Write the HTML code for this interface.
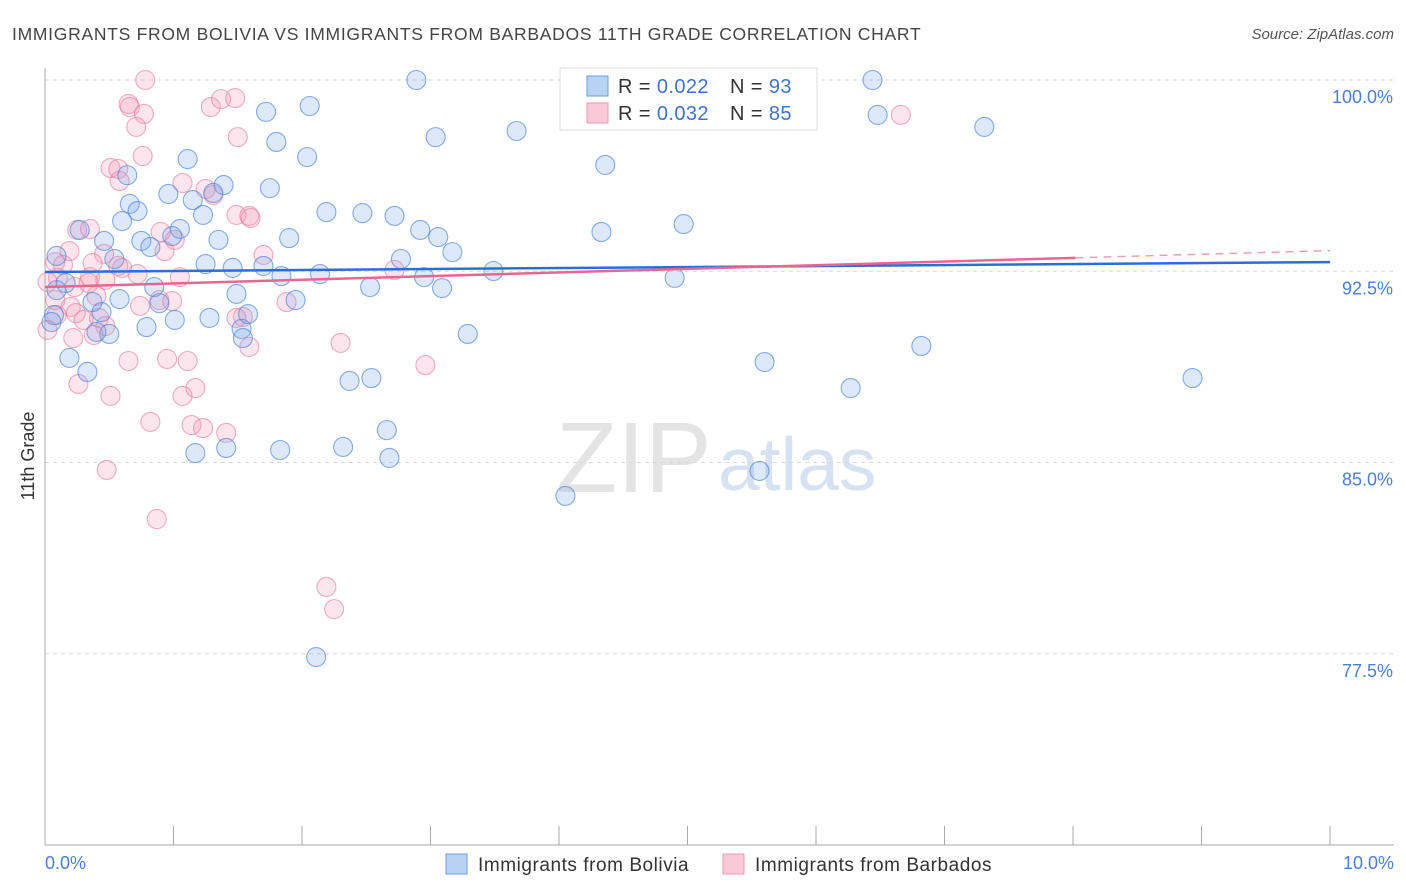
<!DOCTYPE html>
<html><head><meta charset="utf-8"><style>
body{margin:0;background:#fff;font-family:"Liberation Sans",sans-serif;}
#wrap{position:relative;width:1406px;height:892px;overflow:hidden;}
svg text{font-family:"Liberation Sans",sans-serif;}
</style></head><body>
<div id="wrap">
<svg id="chart" width="1406" height="892">
<text x="12" y="40" font-size="17.5" letter-spacing="0.72" fill="#444">IMMIGRANTS FROM BOLIVIA VS IMMIGRANTS FROM BARBADOS 11TH GRADE CORRELATION CHART</text>
<text x="1394" y="39" font-size="15" fill="#555" font-style="italic" text-anchor="end">Source: ZipAtlas.com</text>
<text x="556" y="492" font-size="100" fill="#e4e4e4" font-family="Liberation Serif">ZIP</text>
<text x="718" y="490" font-size="75" fill="#d6e2f3">atlas</text>
<g id="grid"></g>
<g id="axes"></g>
<g id="pts"></g>
<g id="trend"></g>
<text transform="translate(34,456) rotate(-90)" font-size="18" fill="#333" text-anchor="middle">11th Grade</text>
<text x="45" y="869" font-size="18" fill="#4a7fd4">0.0%</text>
<text x="1394" y="869" font-size="18" fill="#4a7fd4" text-anchor="end">10.0%</text>
<g>
<rect x="560" y="68" width="257" height="62" fill="#fff" stroke="#ddd"/>
<rect x="587" y="76" width="21" height="20" fill="#b9d3f5" stroke="#6a9be0"/>
<rect x="587" y="103" width="21" height="20" fill="#f9c9d7" stroke="#ec9ab4"/>
<text x="618" y="93" font-size="20" letter-spacing="0.4" fill="#333">R = <tspan fill="#3d74d0">0.022</tspan></text>
<text x="730" y="93" font-size="20" letter-spacing="0.4" fill="#333">N = <tspan fill="#3d74d0">93</tspan></text>
<text x="618" y="120" font-size="20" letter-spacing="0.4" fill="#333">R = <tspan fill="#3d74d0">0.032</tspan></text>
<text x="730" y="120" font-size="20" letter-spacing="0.4" fill="#333">N = <tspan fill="#3d74d0">85</tspan></text>
</g>
<g>
<rect x="446" y="854" width="21" height="20" fill="#b9d3f5" stroke="#6a9be0"/>
<text x="478" y="871" font-size="19" letter-spacing="0.55" fill="#333">Immigrants from Bolivia</text>
</g>
<g>
<rect x="723" y="854" width="21" height="20" fill="#f9c9d7" stroke="#ec9ab4"/>
<text x="755" y="871" font-size="19" letter-spacing="0.55" fill="#333">Immigrants from Barbados</text>
</g>
</svg>
</div>
<script>
const yTicks=[100,92.5,85,77.5];
const yTickLabels=["100.0%","92.5%","85.0%","77.5%"];
const xTicks=[0,1,2,3,4,5,6,7,8,9,10];
const blueX=[2.89,6.44,4.10,1.72,2.06,6.48,7.31,3.67,3.04,1.80,4.36,1.11,2.04,0.64,1.39,1.75,0.96,1.31,1.15,0.66,0.72,2.19,2.47,2.72,1.23,0.60,4.97,4.33,0.27,1.05,2.92,3.06,1.90,1.35,0.46,0.75,0.82,0.99,3.17,2.77,0.09,0.54,1.25,1.46,1.70,3.49,2.14,1.84,2.95,4.90,0.16,0.85,2.53,3.09,1.49,0.37,0.58,1.95,0.89,1.58,0.07,0.44,1.01,1.28,0.79,1.53,1.54,0.50,0.40,3.29,6.82,0.19,0.33,5.60,2.37,2.54,6.27,8.93,2.66,2.32,1.41,1.17,1.83,2.68,5.56,4.05,2.11,0.05,0.09];
const blueY=[100.0,100.0,99.29,98.75,98.98,98.63,98.16,98.0,97.76,97.57,96.67,96.9,96.98,96.27,95.88,95.76,95.53,95.57,95.29,95.14,94.86,94.82,94.78,94.67,94.71,94.47,94.35,94.04,94.12,94.16,94.12,93.84,93.8,93.73,93.69,93.69,93.45,93.88,93.25,92.98,93.1,92.98,92.78,92.63,92.71,92.51,92.39,92.31,92.27,92.24,92.04,91.88,91.88,91.84,91.61,91.29,91.41,91.37,91.25,90.82,90.78,90.9,90.59,90.67,90.31,90.24,89.88,90.04,90.12,90.04,89.57,89.1,88.55,88.94,88.2,88.31,87.92,88.31,86.27,85.61,85.57,85.37,85.49,85.18,84.67,83.69,77.37,90.51,91.76];
const pinkX=[0.78,0.65,0.66,0.77,1.29,1.37,1.48,0.71,6.66,1.50,0.76,0.51,0.57,0.58,1.07,1.25,1.31,1.49,1.59,1.60,0.25,0.35,0.90,1.01,0.46,0.19,0.08,0.37,0.14,0.60,0.10,0.02,0.57,0.72,1.05,0.93,0.35,0.23,0.34,0.47,0.08,0.40,0.89,0.99,0.74,1.88,0.20,0.09,0.24,0.42,0.47,0.30,0.38,1.54,1.49,1.59,2.30,2.72,1.70,0.22,0.65,0.95,1.11,2.96,0.26,1.17,0.51,1.07,0.82,1.14,1.23,1.41,0.48,0.87,2.19,2.25,0.02];
const pinkY=[100.0,99.06,98.94,98.67,98.94,99.25,99.29,98.16,98.63,97.76,97.02,96.55,96.51,96.04,95.96,95.73,95.49,94.71,94.67,94.59,94.12,94.16,94.04,93.73,93.18,93.29,92.86,92.82,92.75,92.63,92.24,92.08,92.71,92.39,92.27,93.29,92.27,91.88,92.04,92.16,91.37,91.53,91.37,91.33,91.14,91.29,91.1,90.78,90.86,90.67,90.35,90.59,90.0,90.71,90.67,89.53,89.69,92.55,93.14,89.88,88.98,89.06,88.98,88.82,88.08,87.92,87.61,87.61,86.59,86.47,86.35,86.16,84.71,82.78,80.12,79.25,90.2];
const blueTrend=[92.47,92.86];
const pinkTrend=[91.88,93.31];
const pinkSolidEnd=8.02;
const NS="http://www.w3.org/2000/svg";
const X=v=>45+v*128.5;
const Y=v=>80+(100-v)*25.5;
function mk(t,a,parent){const e=document.createElementNS(NS,t);for(const k in a)e.setAttribute(k,a[k]);document.getElementById(parent).appendChild(e);return e;}
yTicks.forEach((t,i)=>{
 const l=mk('line',{x1:45,x2:1394,y1:Y(t),y2:Y(t),stroke:'#d8d8d8','stroke-dasharray':'4,4'},'grid');
 
 
 const tx=mk('text',{x:1393,y:Y(t)+23,'font-size':18,fill:'#4a7fd4','text-anchor':'end'},'grid');
 tx.textContent=yTickLabels[i];
 
 
});
const ax=mk('line',{x1:45,x2:45,y1:68,y2:845,stroke:'#aaa'},'axes');


const bx=mk('line',{x1:45,x2:1394,y1:845,y2:845,stroke:'#aaa'},'axes');


xTicks.forEach(t=>{
 const l=mk('line',{x1:X(t),x2:X(t),y1:826,y2:845,stroke:'#aaa'},'axes');
 
 
});
function dots(xs,ys,fill,stroke,name){
 xs.forEach((x,i)=>{
  const c=mk('circle',{cx:X(x),cy:Y(ys[i]),r:9.5,fill:fill,stroke:stroke,'stroke-width':1.1},'pts');
  
  
 });
}
dots(pinkX,pinkY,'rgba(242,150,180,0.25)','rgba(232,120,156,0.6)','barbados-point');
dots(blueX,blueY,'rgba(120,165,235,0.25)','rgba(70,130,220,0.65)','bolivia-point');
const bt=mk('line',{x1:X(0),y1:Y(blueTrend[0]),x2:X(10),y2:Y(blueTrend[1]),stroke:'#2a6fd8','stroke-width':2.5},'trend');


const pe=pinkTrend[0]+(pinkTrend[1]-pinkTrend[0])*pinkSolidEnd/10;
const pt=mk('line',{x1:X(0),y1:Y(pinkTrend[0]),x2:X(pinkSolidEnd),y2:Y(pe),stroke:'#e8678f','stroke-width':2.5},'trend');


const pd=mk('line',{x1:X(pinkSolidEnd),y1:Y(pe),x2:X(10),y2:Y(pinkTrend[1]),stroke:'#e8a0b6','stroke-width':1.5,'stroke-dasharray':'8,6'},'trend');


</script>
</body></html>
